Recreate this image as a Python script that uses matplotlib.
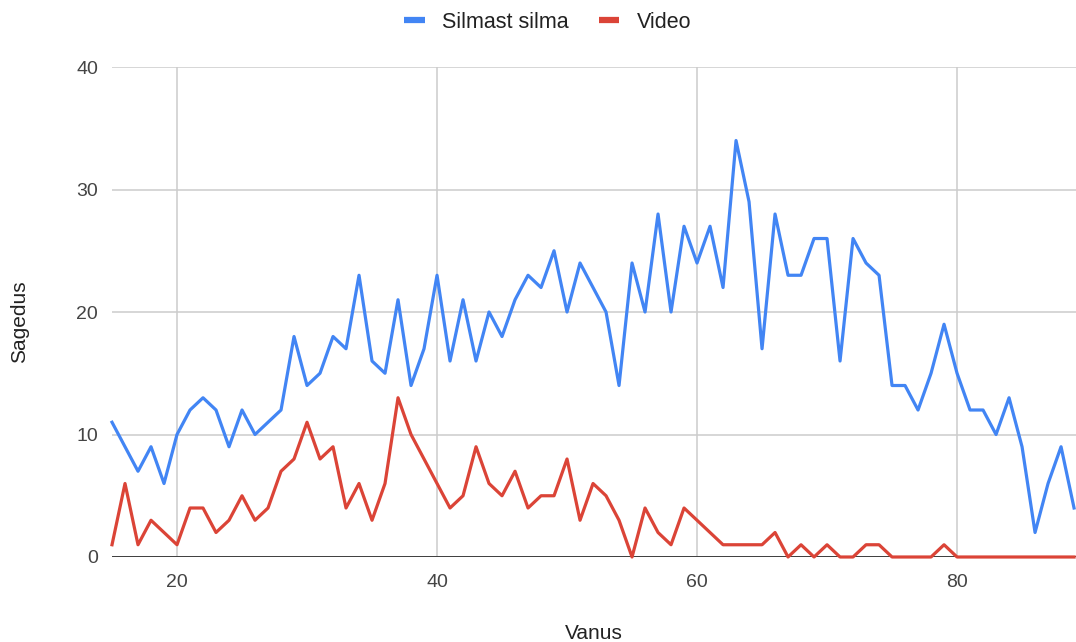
import matplotlib
matplotlib.use('Agg')
import matplotlib.pyplot as plt
from matplotlib.lines import Line2D

plt.rcParams['font.family'] = ['Liberation Sans', 'DejaVu Sans']

# vanus (aastates) ja sagedused
ages = list(range(15, 90))
silmast = [11, 9, 7, 9, 6, 10, 12, 13, 12, 9, 12, 10, 11, 12, 18,
           14, 15, 18, 17, 23, 16, 15, 21, 14, 17, 23, 16, 21, 16, 20,
           18, 21, 23, 22, 25, 20, 24, 22, 20, 14, 24, 20, 28, 20, 27,
           24, 27, 22, 34, 29, 17, 28, 23, 23, 26, 26, 16, 26, 24, 23,
           14, 14, 12, 15, 19, 15, 12, 12, 10, 13, 9, 2, 6, 9, 4]
video = [1, 6, 1, 3, 2, 1, 4, 4, 2, 3, 5, 3, 4, 7, 8,
         11, 8, 9, 4, 6, 3, 6, 13, 10, 8, 6, 4, 5, 9, 6,
         5, 7, 4, 5, 5, 8, 3, 6, 5, 3, 0, 4, 2, 1, 4,
         3, 2, 1, 1, 1, 1, 2, 0, 1, 0, 1, 0, 0, 1, 1,
         0, 0, 0, 0, 1, 0, 0, 0, 0, 0, 0, 0, 0, 0, 0]

series_names = ['Silmast silma', 'Video']
colors = ['#4285f4', '#db4437']
xticks = [20, 40, 60, 80]
yticks = [0, 10, 20, 30, 40]

fig = plt.figure(figsize=(10.76, 6.42), dpi=100)
ax = fig.add_axes([0.1041, 0.1324, 0.8959, 0.7632])

ax.plot(ages, silmast, color=colors[0], lw=2.3, clip_on=False, zorder=3,
        solid_joinstyle='round')
ax.plot(ages, video, color=colors[1], lw=2.3, clip_on=False, zorder=4,
        solid_joinstyle='round')

ax.set_xlim(15, 89.15)
ax.set_ylim(0, 40)
ax.set_xticks(xticks)
ax.set_yticks(yticks)
ax.grid(True, color='#cccccc', lw=1.1)
ax.set_axisbelow(True)
ax.axhline(0, color='#333333', lw=1.3, zorder=2)
for s in ax.spines.values():
    s.set_visible(False)
ax.tick_params(length=0, labelsize=14, colors='#444444', pad=12)
ax.tick_params(axis='y', pad=10)

ax.set_xlabel('Vanus', fontsize=15, color='#222222', labelpad=24)
ax.set_ylabel('Sagedus', fontsize=15, color='#222222')
ax.yaxis.set_label_coords(-0.086, 0.48)

handles = [Line2D([], [], color=c, lw=4.5, solid_capstyle='butt') for c in colors]
fig.legend(handles, series_names, loc='upper center', bbox_to_anchor=(0.509, 1.012),
           ncol=2, frameon=False, fontsize=15.5, handlelength=0.95,
           handletextpad=0.8, columnspacing=1.4, labelcolor='#222222')

fig.savefig('out.png', dpi=100)
